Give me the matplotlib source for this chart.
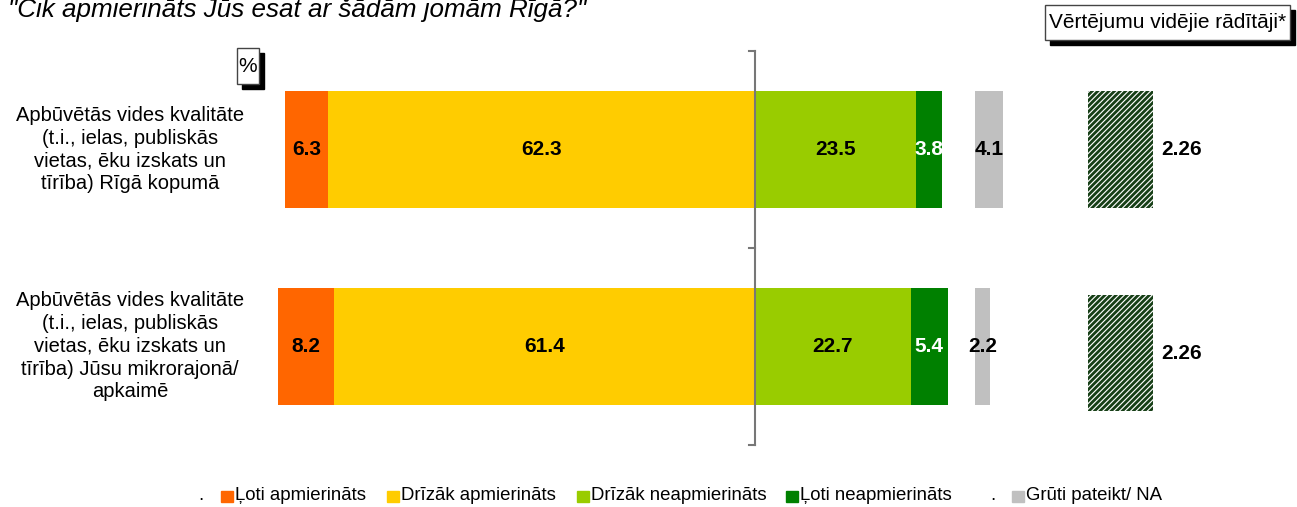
import matplotlib.pyplot as plt
from matplotlib.patches import Rectangle

plt.rcParams['font.family'] = ['Liberation Sans', 'DejaVu Sans']
plt.rcParams['hatch.linewidth'] = 2.0

categories = [
    "Apbūvētās vides kvalitāte\n(t.i., ielas, publiskās\nvietas, ēku izskats un\ntīrība) Rīgā kopumā",
    "Apbūvētās vides kvalitāte\n(t.i., ielas, publiskās\nvietas, ēku izskats un\ntīrība) Jūsu mikrorajonā/\napkaimē",
]
loti_apm = [6.3, 8.2]
drizak_apm = [62.3, 61.4]
drizak_neapm = [23.5, 22.7]
loti_neapm = [3.8, 5.4]
gruti = [4.1, 2.2]
videjie = [2.26, 2.26]

legend_labels = ["Ļoti apmierināts", "Drīzāk apmierināts", "Drīzāk neapmierināts",
                 "Ļoti neapmierināts", "Grūti pateikt/ NA"]
colors = ["#FF6600", "#FFCC00", "#99CC00", "#008000", "#C0C0C0"]

W, H = 1297, 507
fig = plt.figure(figsize=(W / 100, H / 100), dpi=100)
ax = fig.add_axes([0, 0, 1, 1])
ax.set_xlim(-110.2, 79.1)
ax.set_ylim(1.815, -0.759)
ax.axis('off')

y = list(range(len(categories)))
bh = 0.59
gruti_start = 32.1
avg_left, avg_w = 48.6, 9.5
avg_shift = [0, 0.035]  # the averages panel sits slightly lower on row 2

for i in y:
    neg1 = -drizak_apm[i]
    neg2 = neg1 - loti_apm[i]
    ax.barh(i, loti_apm[i], left=neg2, height=bh, color=colors[0])
    ax.barh(i, drizak_apm[i], left=neg1, height=bh, color=colors[1])
    ax.barh(i, drizak_neapm[i], left=0, height=bh, color=colors[2])
    ax.barh(i, loti_neapm[i], left=drizak_neapm[i], height=bh, color=colors[3])
    ax.barh(i, gruti[i], left=gruti_start, height=bh, color=colors[4])
    ya = i + avg_shift[i]
    ax.barh(ya, avg_w, left=avg_left, height=bh, color='white',
            edgecolor='#173F17', hatch='//////', linewidth=0)

    kw = dict(ha='center', va='center', fontsize=15, fontweight='bold')
    ax.text(neg2 + loti_apm[i] / 2, i, f"{loti_apm[i]:.1f}", color='black', **kw)
    ax.text(neg1 / 2, i, f"{drizak_apm[i]:.1f}", color='black', **kw)
    ax.text(drizak_neapm[i] / 2, i, f"{drizak_neapm[i]:.1f}", color='black', **kw)
    ax.text(drizak_neapm[i] + loti_neapm[i] / 2, i, f"{loti_neapm[i]:.1f}", color='white', **kw)
    ax.text(gruti_start + gruti[i] / 2, i, f"{gruti[i]:.1f}", color='black', **kw)
    ax.text(avg_left + avg_w + 1.2, ya, f"{videjie[i]:.2f}", ha='left', va='center',
            fontsize=15, fontweight='bold')
    ax.text(-91.2, i, categories[i], ha='center', va='center', fontsize=14.5,
            multialignment='center', linespacing=1.25)

# central axis with ticks
ax.plot([0, 0], [-0.5, 1.5], color='#777777', lw=1.5, zorder=5)
for t in [-0.5, 0.5, 1.5]:
    ax.plot([-0.9, 0], [t, t], color='#777777', lw=1.5, zorder=5)

# title
fig.text(8 / W, 1 - 17 / H, '"Cik apmierināts Jūs esat ar šādām jomām Rīgā?"',
         fontsize=18.7, fontstyle='italic', ha='left', va='baseline')


def shadow_box(x0, y0, w, h, text, fs):
    fig.patches.append(Rectangle(((x0 + 5) / W, 1 - (y0 + h + 5) / H), w / W, h / H,
                                 transform=fig.transFigure, color='black', zorder=1))
    fig.patches.append(Rectangle((x0 / W, 1 - (y0 + h) / H), w / W, h / H,
                                 transform=fig.transFigure, facecolor='white',
                                 edgecolor='#444444', lw=1, zorder=2))
    fig.text((x0 + w / 2) / W, 1 - (y0 + h / 2) / H, text, ha='center', va='center',
             fontsize=fs, zorder=3)


shadow_box(1045, 5, 245, 35, "Vērtējumu vidējie rādītāji*", 15)
shadow_box(237, 48, 22, 36, "%", 15)

# legend
leg_y = 1 - 496 / H
sq_w, sq_h = 12, 11
fig.text(198 / W, leg_y, ".", fontsize=13.4, va='center')
fig.text(990 / W, leg_y, ".", fontsize=13.4, va='center')
for x0, lab, c in zip([221, 387, 577, 786, 1012], legend_labels, colors):
    fig.patches.append(Rectangle((x0 / W, leg_y - sq_h / 2 / H), sq_w / W, sq_h / H,
                                 transform=fig.transFigure, color=c))
    fig.text((x0 + sq_w + 2) / W, leg_y, lab, fontsize=13.4, va='center')

fig.savefig('out.png', dpi=100)
